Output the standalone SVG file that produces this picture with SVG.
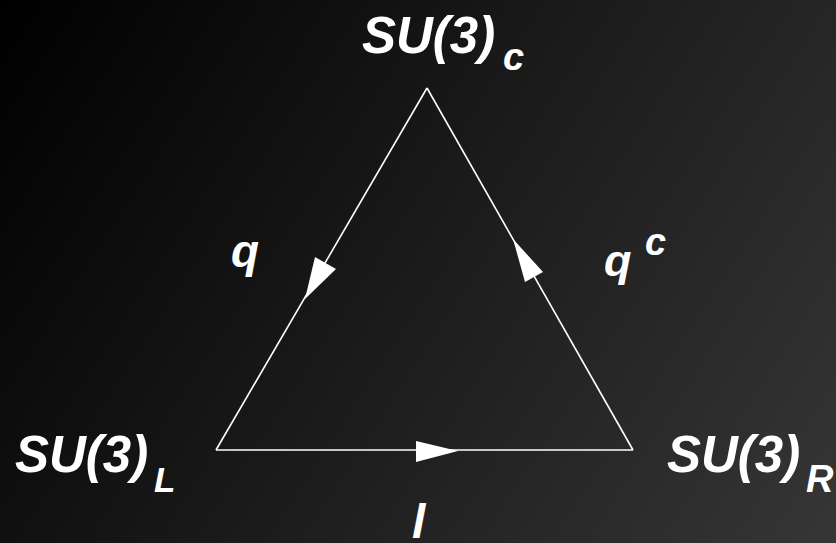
<svg xmlns="http://www.w3.org/2000/svg" width="836" height="543" viewBox="0 0 836 543">
<defs>
<linearGradient id="bg" x1="0" y1="0" x2="836" y2="543" gradientUnits="userSpaceOnUse">
<stop offset="0" stop-color="#000"/>
<stop offset="1" stop-color="#363636"/>
</linearGradient>
</defs>
<style>
text{font-family:"Liberation Sans",Arial,sans-serif;font-weight:bold;font-style:italic;fill:#fff}
.edge{stroke:#fff;stroke-width:1.6;fill:none}
.head{fill:#fff}
</style>
<rect width="836" height="543" fill="url(#bg)"/>
<g id="connectors">
<line class="edge" x1="427" y1="88" x2="216" y2="450"/>
<line class="edge" x1="633" y1="450" x2="427" y2="88"/>
<line class="edge" x1="216" y1="450" x2="633" y2="450"/>
<polygon class="head" points="305,299 315,257 336,269"/>
<polygon class="head" points="513,239 525,282 543,272"/>
<polygon class="head" points="458,451 416,441 416,462"/>
</g>
<g id="node-c">
<text x="362" y="53" font-size="51">SU(3)</text>
<text x="503" y="70" font-size="38">c</text>
</g>
<g id="node-L">
<text x="15" y="472" font-size="51">SU(3)</text>
<text x="154" y="492" font-size="35">L</text>
</g>
<g id="node-R">
<text x="667" y="472" font-size="51">SU(3)</text>
<text x="806" y="492" font-size="38">R</text>
</g>
<g id="label-q">
<text x="231" y="267" font-size="46">q</text>
</g>
<g id="label-qc">
<text x="604" y="276" font-size="45">q</text>
<text x="645" y="255" font-size="38">c</text>
</g>
<g id="label-l">
<text x="412" y="538" font-size="48">l</text>
</g>
</svg>
